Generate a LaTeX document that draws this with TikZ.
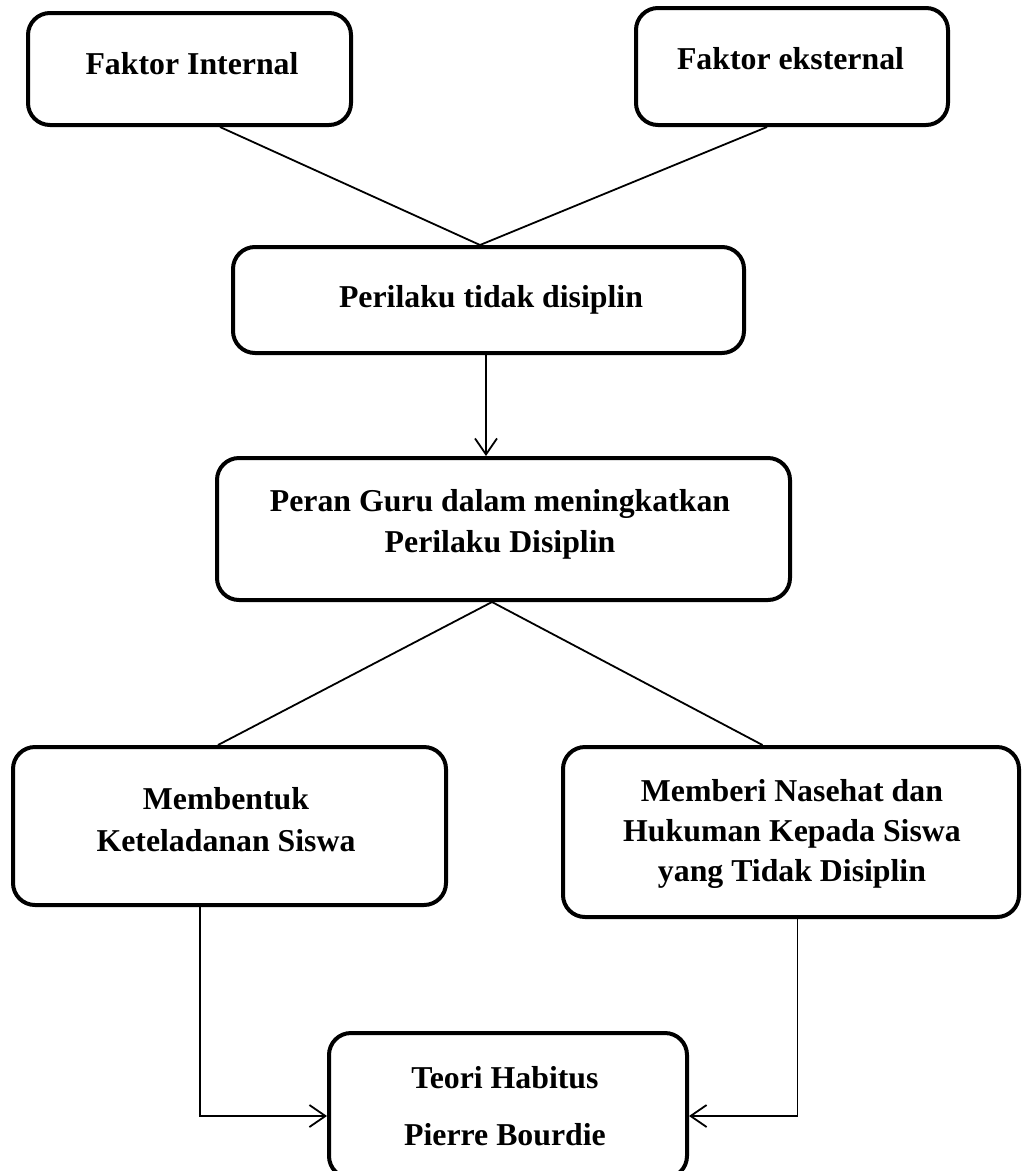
\documentclass[tikz,border=0pt]{standalone}
\usepackage{fontspec}
\setmainfont{Liberation Serif}
\usetikzlibrary{arrows.meta}
\begin{document}
\begin{tikzpicture}[x=1pt,y=-1pt,
  box/.style={draw, line width=4pt, rounded corners=22pt, inner sep=0pt},
  lbl/.style={font={\bfseries\fontsize{31.8}{41}\selectfont}, align=center, inner sep=0pt, anchor=north},
  conn/.style={line width=1.8pt},
  arr/.style={conn, -{Straight Barb[length=16pt,width=22pt]}}]
\useasboundingbox (0,0) rectangle (1026,1171);
\clip (0,0) rectangle (1026,1171);
\node[box, minimum width=323pt, minimum height=112pt] (A) at (189.5,69) {};
\node[lbl] (tA) at (192,52.5) {Faktor Internal};
\node[box, minimum width=312pt, minimum height=117pt] (B) at (792,66.5) {};
\node[lbl] (tB) at (790.5,47.5) {Faktor eksternal};
\node[box, minimum width=511pt, minimum height=106pt] (C) at (488.5,300) {};
\node[lbl] (tC) at (491,285.5) {Perilaku tidak disiplin};
\node[box, minimum width=573pt, minimum height=142pt] (D) at (503.5,529) {};
\node[lbl] (tD) at (500,489.5) {Peran Guru dalam meningkatkan\\Perilaku Disiplin};
\node[box, minimum width=433pt, minimum height=158pt] (E) at (229.5,826) {};
\node[lbl, font={\bfseries\fontsize{31.8}{42}\selectfont}] (tE) at (226,787.5) {Membentuk\\Keteladanan Siswa};
\node[box, minimum width=456pt, minimum height=170pt] (F) at (791,832) {};
\node[lbl, font={\bfseries\fontsize{31.8}{40}\selectfont}] (tF) at (792,779.5) {Memberi Nasehat dan\\Hukuman Kepada Siswa\\yang Tidak Disiplin};
\node[box, minimum width=358pt, minimum height=145pt] (G) at (508,1105.5) {};
\node[lbl, font={\bfseries\fontsize{31.8}{57}\selectfont}] (tG) at (505,1066.5) {Teori Habitus\\Pierre Bourdie};
\draw[conn] ([xshift=30.5pt]A.south) -- ([xshift=-8.5pt]C.north);
\draw[conn] ([xshift=-25pt]B.south) -- ([xshift=-8.5pt]C.north);
\draw[arr] ([xshift=-2.5pt]C.south) -- ([xshift=-2.5pt]C.south |- D.north);
\draw[conn] ([xshift=-11.5pt]D.south) -- ([xshift=-11.5pt]E.north);
\draw[conn] ([xshift=-11.5pt]D.south) -- ([xshift=-28.5pt]F.north);
\draw[arr] ([xshift=-29.5pt]E.south) |- ([yshift=-10.5pt]G.west);
\draw[arr] ([xshift=6.5pt]F.south) |- ([yshift=-10.5pt]G.east);
\end{tikzpicture}
\end{document}
